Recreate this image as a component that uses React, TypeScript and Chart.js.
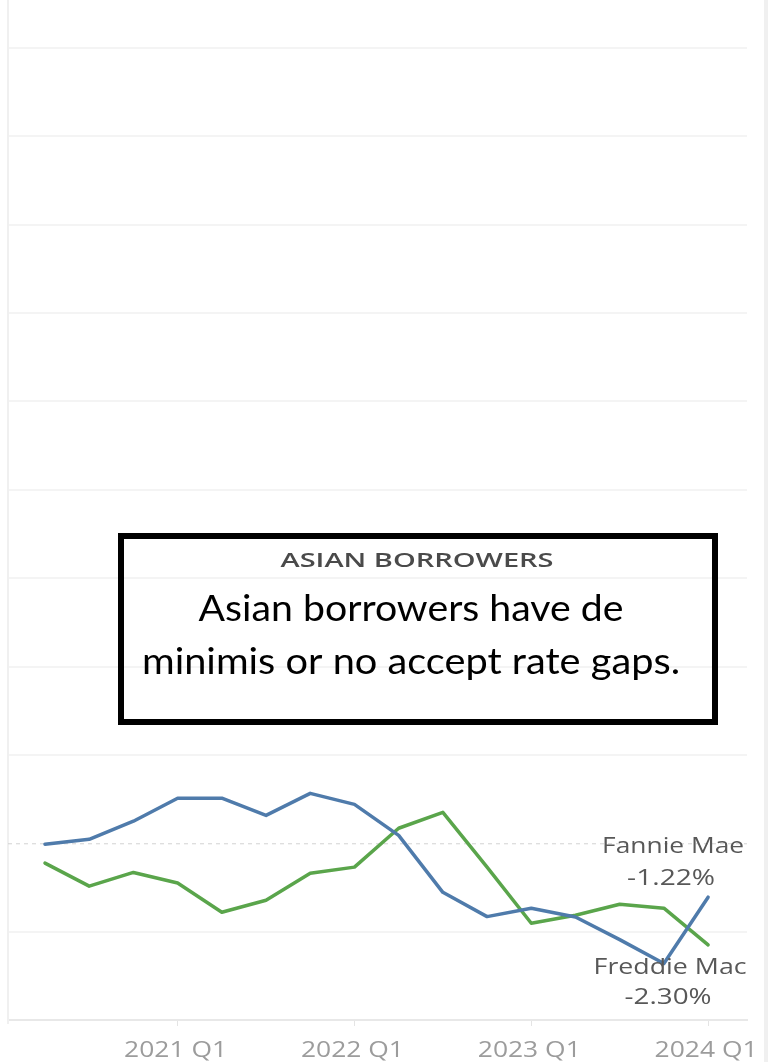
import { useEffect, useRef } from "react";
import { Chart, registerables } from "chart.js";

Chart.register(...registerables);

// ---- data ----
const quarters = [
  "2020 Q2", "2020 Q3", "2020 Q4",
  "2021 Q1", "2021 Q2", "2021 Q3", "2021 Q4",
  "2022 Q1", "2022 Q2", "2022 Q3", "2022 Q4",
  "2023 Q1", "2023 Q2", "2023 Q3", "2023 Q4",
  "2024 Q1",
];
const fannieMae = [-0.02, 0.09, 0.5, 1.02, 1.02, 0.63, 1.13, 0.88, 0.18, -1.11, -1.66, -1.47, -1.67, -2.18, -2.72, -1.22];
const freddieMac = [-0.45, -0.97, -0.66, -0.9, -1.56, -1.29, -0.68, -0.54, 0.34, 0.7, -0.54, -1.81, -1.63, -1.38, -1.47, -2.3];
const seriesNames = ["Fannie Mae", "Freddie Mac"];
const xTickLabels = ["2021 Q1", "2022 Q1", "2023 Q1", "2024 Q1"];
const yMin = -4;
const yMax = 18;
const yStep = 2;
const boxTitle = "ASIAN BORROWERS";
const boxLines = ["Asian borrowers have de", "minimis or no accept rate gaps."];

const BLUE = "#4f7bab";
const GREEN = "#5aa54b";

function fitText(
  ctx: CanvasRenderingContext2D,
  text: string,
  cx: number,
  y: number,
  font: string,
  color: string,
  width: number
) {
  ctx.save();
  ctx.font = font;
  ctx.fillStyle = color;
  ctx.textAlign = "center";
  ctx.textBaseline = "alphabetic";
  const w = ctx.measureText(text).width || 1;
  ctx.translate(cx, y);
  ctx.scale(width / w, 1);
  ctx.fillText(text, 0, 0);
  ctx.restore();
}

const fmt = (v: number) => v.toFixed(2) + "%";

const decorPlugin = {
  id: "decor",
  beforeDatasetsDraw(chart: any) {
    const { ctx, chartArea, scales } = chart;
    ctx.save();
    // left frame line
    ctx.strokeStyle = "#f0f0f0";
    ctx.lineWidth = 2;
    ctx.beginPath();
    ctx.moveTo(chartArea.left, 0);
    ctx.lineTo(chartArea.left, chartArea.bottom + 4);
    ctx.stroke();
    // right gray panel
    ctx.fillStyle = "#f0f0f0";
    ctx.fillRect(764, 0, 4, chart.height);
    // zero dashed line
    const y0 = scales.y.getPixelForValue(0);
    ctx.strokeStyle = "#d2d2d2";
    ctx.lineWidth = 1;
    ctx.setLineDash([4, 4]);
    ctx.beginPath();
    ctx.moveTo(chartArea.left, y0 + 0.5);
    ctx.lineTo(chartArea.right, y0 + 0.5);
    ctx.stroke();
    ctx.restore();
  },
  afterDraw(chart: any) {
    const { ctx, scales } = chart;
    const xs = scales.x;
    const ys = scales.y;
    // x tick labels
    xTickLabels.forEach((lab) => {
      const idx = quarters.indexOf(lab);
      const px = xs.getPixelForValue(idx);
      fitText(ctx, lab, px - 2, 1057, "21px 'Open Sans'", "#9c9c9c", 103);
    });
    // end labels
    const last = quarters.length - 1;
    const fx = xs.getPixelForValue(last);
    const fy = ys.getPixelForValue(fannieMae[last]);
    const gy = ys.getPixelForValue(freddieMac[last]);
    const labFont = "21px 'Open Sans'";
    const labCol = "#585858";
    fitText(ctx, seriesNames[0], fx - 35, fy - 44, labFont, labCol, 142);
    fitText(ctx, fmt(fannieMae[last]), fx - 37, fy - 12, labFont, labCol, 88);
    fitText(ctx, seriesNames[1], fx - 38, gy + 29, labFont, labCol, 153);
    fitText(ctx, fmt(freddieMac[last]), fx - 40, gy + 59, labFont, labCol, 87);

    // annotation box
    ctx.save();
    ctx.strokeStyle = "#000";
    ctx.lineWidth = 6;
    ctx.strokeRect(121, 536, 594, 186);
    ctx.restore();
    fitText(ctx, boxTitle, 417, 567, "600 20px 'Open Sans'", "#4a4a4a", 273);
    fitText(ctx, boxLines[0], 411, 621, "36px Lato", "#000", 425);
    fitText(ctx, boxLines[1], 411, 674, "36px Lato", "#000", 538);
  },
};

export default function App() {
  const ref = useRef<HTMLCanvasElement | null>(null);
  useEffect(() => {
    document.body.style.margin = "0";
    if (!ref.current) return;
    const xTickIdx = xTickLabels.map((l) => quarters.indexOf(l));
    const chart = new Chart(ref.current, {
      type: "line",
      data: {
        labels: quarters,
        datasets: [
          {
            label: seriesNames[0],
            data: fannieMae.map((v, i) => ({ x: i, y: v })),
            borderColor: BLUE,
            borderWidth: 3.5,
            pointRadius: 0,
            tension: 0,
            borderJoinStyle: "round",
            borderCapStyle: "round",
          },
          {
            label: seriesNames[1],
            data: freddieMac.map((v, i) => ({ x: i, y: v })),
            borderColor: GREEN,
            borderWidth: 3.5,
            pointRadius: 0,
            tension: 0,
            borderJoinStyle: "round",
            borderCapStyle: "round",
          },
        ],
      },
      options: {
        animation: false,
        responsive: false,
        devicePixelRatio: 1,
        layout: { padding: { left: 8, right: 21, top: 48, bottom: 0 } },
        plugins: { legend: { display: false }, tooltip: { enabled: false } },
        scales: {
          x: {
            type: "linear",
            min: -0.837,
            max: 15.88,
            afterBuildTicks: (s: any) => {
              s.ticks = xTickIdx.map((v) => ({ value: v }));
            },
            afterFit: (s: any) => {
              s.height = 42;
            },
            ticks: { display: false },
            grid: {
              drawOnChartArea: false,
              drawTicks: true,
              tickLength: 6,
              tickColor: "#e4e4e4",
              color: "#e4e4e4",
            },
            border: { display: true, color: "#e8e8e8", width: 2 },
          },
          y: {
            type: "linear",
            min: yMin,
            max: yMax,
            ticks: { display: false, stepSize: yStep },
            afterFit: (s: any) => {
              s.width = 0;
            },
            grid: {
              drawTicks: false,
              color: (c: any) => (c.tick && c.tick.value === 0 ? "rgba(0,0,0,0)" : "#f4f4f4"),
              lineWidth: 2,
            },
            border: { display: false },
          },
        },
      },
      plugins: [decorPlugin],
    });
    return () => chart.destroy();
  }, []);
  return (
    <div style={{ width: 768, height: 1062, background: "#fff" }}>
      <canvas ref={ref} width={768} height={1062} style={{ display: "block" }} />
    </div>
  );
}
